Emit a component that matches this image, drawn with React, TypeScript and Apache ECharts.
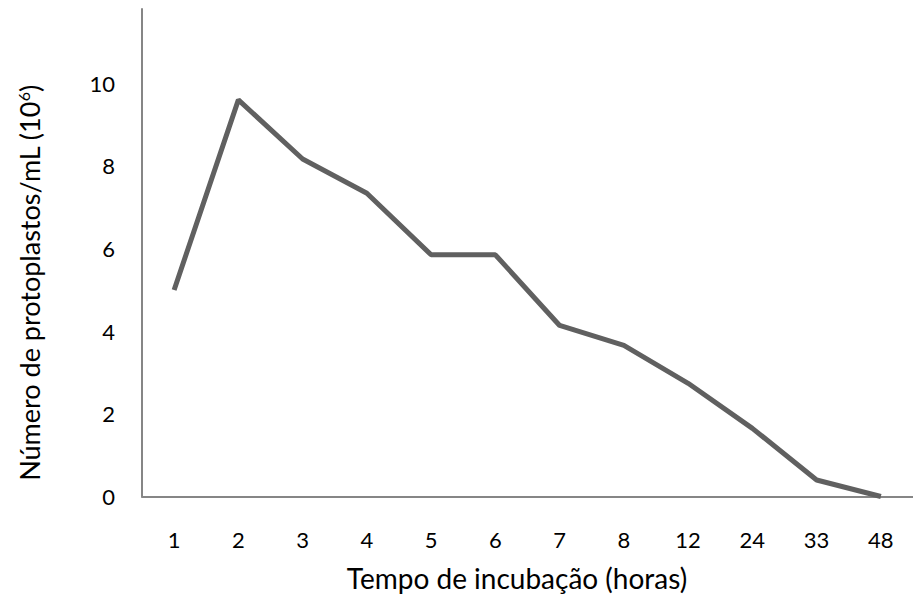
import React, { useEffect, useRef } from "react";
import * as echarts from "echarts";

const categories = ["1", "2", "3", "4", "5", "6", "7", "8", "12", "24", "33", "48"];
const values = [5.0, 9.6, 8.17, 7.34, 5.85, 5.85, 4.14, 3.66, 2.74, 1.65, 0.4, 0.0];
const yTicks = [0, 2, 4, 6, 8, 10];
const xTitle = "Tempo de incubação (horas)";
const yTitle = "Número de protoplastos/mL (10";

export default function App() {
  const ref = useRef<HTMLDivElement>(null);
  useEffect(() => {
    if (!ref.current) return;
    const chart = echarts.init(ref.current, null, { renderer: "svg" });
    const font = "Lato, 'Open Sans', sans-serif";
    chart.setOption({
      animation: false,
      backgroundColor: "#ffffff",
      grid: { left: 142, right: -4, top: 9, bottom: 109.5, containLabel: false },
      xAxis: {
        type: "category",
        data: categories,
        boundaryGap: true,
        axisLine: { show: true, lineStyle: { color: "#868686", width: 2 } },
        axisTick: { show: false },
        axisLabel: { color: "#000", fontSize: 22, fontFamily: font, margin: 32 },
      },
      yAxis: {
        type: "value",
        min: 0,
        max: 11.8,
        interval: 2,
        splitLine: { show: false },
        axisLine: { show: true, lineStyle: { color: "#868686", width: 2 } },
        axisTick: { show: false },
        axisLabel: {
          color: "#000",
          fontSize: 22,
          fontFamily: font,
          margin: 27,
          showMaxLabel: false,
          formatter: (v: number) => (yTicks.indexOf(v) >= 0 ? String(v) : ""),
        },
      },
      graphic: [
        {
          type: "text",
          x: 517,
          y: 578,
          style: {
            text: xTitle,
            fontSize: 28,
            fontFamily: font,
            fill: "#000",
            align: "center",
            verticalAlign: "middle",
          },
        },
        {
          type: "text",
          x: 29,
          y: 283,
          rotation: Math.PI / 2,
          style: {
            text: "{a|" + yTitle + "}{s|6}{a|)}",
            fontFamily: font,
            fill: "#000",
            align: "center",
            verticalAlign: "middle",
            rich: {
              a: { fontSize: 27, fontFamily: font, fill: "#000" },
              s: { fontSize: 16, fontFamily: font, fill: "#000", verticalAlign: "top", padding: [0, 0, 10, 0] },
            },
          },
        },
      ],
      series: [
        {
          type: "line",
          data: values,
          symbol: "none",
          lineStyle: { color: "#606060", width: 5 },
          itemStyle: { color: "#606060" },
        },
      ],
    });
    return () => chart.dispose();
  }, []);
  return (
    <div
      ref={ref}
      style={{ position: "fixed", left: 0, top: 0, width: 913, height: 606 }}
    />
  );
}
